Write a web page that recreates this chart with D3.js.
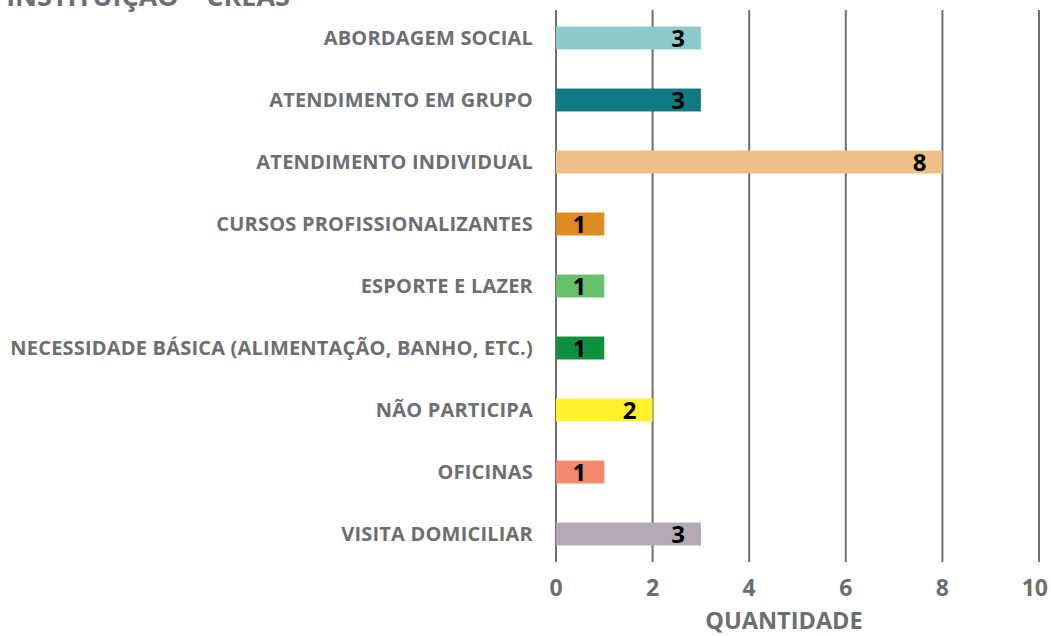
<!DOCTYPE html>
<html>
<head>
<meta charset="utf-8">
<script src="https://cdn.jsdelivr.net/npm/d3@7"></script>
<style>
  html, body { margin: 0; padding: 0; background: #fff; }
  svg { display: block; }
</style>
</head>
<body>
<svg id="chart" width="1051" height="636"></svg>
<script>
// Atividades realizadas na instituição (CREAS)
const categories = [
  "ABORDAGEM SOCIAL",
  "ATENDIMENTO EM GRUPO",
  "ATENDIMENTO INDIVIDUAL",
  "CURSOS PROFISSIONALIZANTES",
  "ESPORTE E LAZER",
  "NECESSIDADE BÁSICA (ALIMENTAÇÃO, BANHO, ETC.)",
  "NÃO PARTICIPA",
  "OFICINAS",
  "VISITA DOMICILIAR"
];
const values = [3, 3, 8, 1, 1, 1, 2, 1, 3];
const colors = ["#8ccbcb", "#0f7a82", "#f0bf85", "#e08b1f", "#68bf6c", "#0f9140", "#fff22a", "#f38a6e", "#b5a9b6"];
const xTicks = [0, 2, 4, 6, 8, 10];
const title = "INSTITUIÇÃO – CREAS";
const xTitle = "QUANTIDADE";

const W = 1051;
const gray = "#6d6e71";
const labelFont = "'Open Sans', 'Noto Sans', sans-serif";

const svg = d3.select("#chart");

const x = d3.scaleLinear().domain([0, 10]).range([556, 1039]);
const y = d3.scaleBand().domain(categories).range([7, 565]).paddingInner(0.63).paddingOuter(0.315);

// Title (runs off the top edge)
svg.append("text")
  .attr("x", 290).attr("y", 6)
  .attr("text-anchor", "end")
  .attr("font-family", labelFont).attr("font-weight", 700)
  .attr("font-size", 27).attr("fill", gray)
  .text(title);

// Vertical grid lines
svg.append("g")
  .selectAll("line")
  .data(xTicks)
  .join("line")
  .attr("x1", d => x(d)).attr("x2", d => x(d))
  .attr("y1", 10).attr("y2", 562)
  .attr("stroke", gray).attr("stroke-width", 2);

// Bars
svg.append("g")
  .selectAll("rect")
  .data(categories)
  .join("rect")
  .attr("x", x(0))
  .attr("y", d => y(d))
  .attr("width", (d, i) => x(values[i]) - x(0))
  .attr("height", y.bandwidth())
  .attr("fill", (d, i) => colors[i]);

// Value labels inside bar ends
svg.append("g")
  .selectAll("text")
  .data(categories)
  .join("text")
  .attr("x", (d, i) => x(values[i]) - (values[i] === 1 ? 18 : 16))
  .attr("y", d => y(d) + y.bandwidth() / 2 + 9)
  .attr("text-anchor", "end")
  .attr("font-family", labelFont).attr("font-weight", 700)
  .attr("font-size", 24).attr("fill", "#000")
  .text((d, i) => values[i]);

// Category labels
svg.append("g")
  .selectAll("text")
  .data(categories)
  .join("text")
  .attr("x", 533)
  .attr("y", d => y(d) + y.bandwidth() / 2 + 7)
  .attr("text-anchor", "end")
  .attr("font-family", labelFont).attr("font-weight", 700)
  .attr("font-size", 20).attr("letter-spacing", 0.2).attr("fill", gray)
  .text(d => d);

// X axis tick labels (kept inside the right edge)
svg.append("g")
  .selectAll("text")
  .data(xTicks)
  .join("text")
  .attr("y", 596)
  .attr("text-anchor", "middle")
  .attr("font-family", labelFont).attr("font-weight", 700)
  .attr("font-size", 23).attr("fill", gray)
  .text(d => d)
  .attr("x", function(d) {
    const w = this.getComputedTextLength();
    return Math.min(x(d), W - 3 - w / 2);
  });

// X axis title
svg.append("text")
  .attr("x", 784).attr("y", 629)
  .attr("text-anchor", "middle")
  .attr("font-family", labelFont).attr("font-weight", 700)
  .attr("font-size", 23.5).attr("fill", gray)
  .text(xTitle);
</script>
</body>
</html>
